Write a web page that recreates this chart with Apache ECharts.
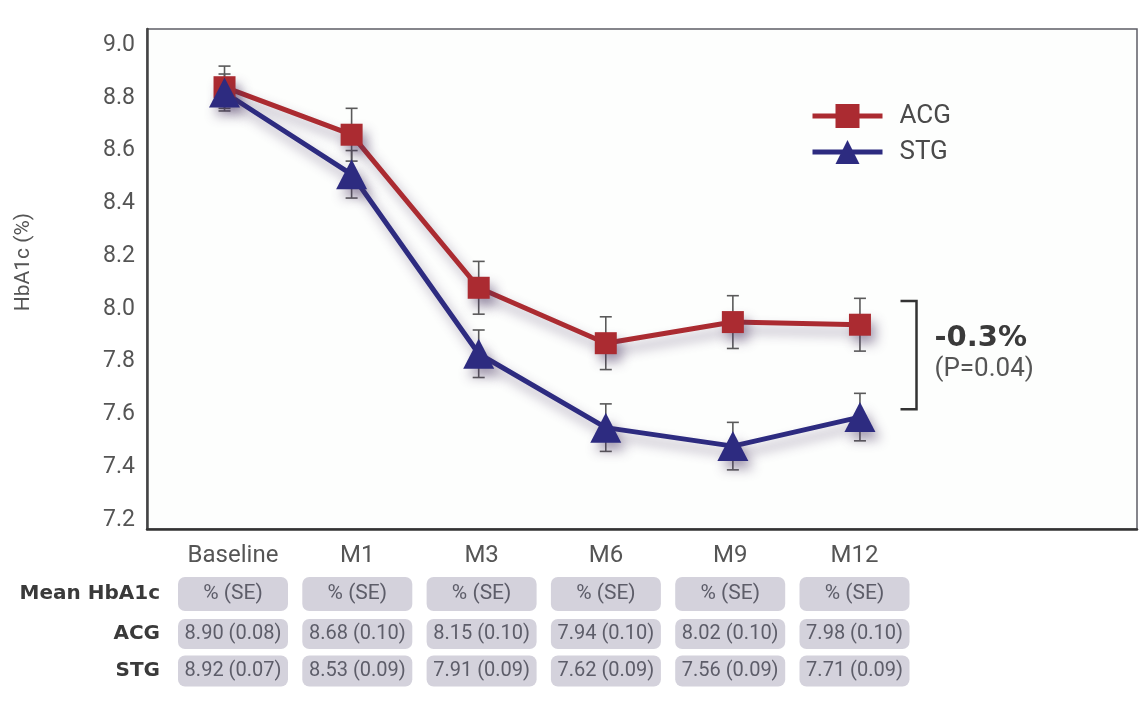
<!DOCTYPE html>
<html>
<head>
<meta charset="utf-8">
<script src="https://cdn.jsdelivr.net/npm/echarts@6/dist/echarts.min.js"></script>
<style>
  html, body { margin: 0; padding: 0; background: #ffffff; }
  #chart { width: 1139px; height: 706px; }
</style>
</head>
<body>
<div id="chart"></div>
<script>
// Visits (x categories)
const visits = ['Baseline', 'M1', 'M3', 'M6', 'M9', 'M12'];

// Plotted HbA1c (%) per visit
const acgPlot = [8.84, 8.66, 8.08, 7.87, 7.95, 7.94];
const stgPlot = [8.82, 8.51, 7.83, 7.55, 7.48, 7.59];

// Table: mean HbA1c % and SE
const acgMean = [8.90, 8.68, 8.15, 7.94, 8.02, 7.98];
const acgSE   = [0.08, 0.10, 0.10, 0.10, 0.10, 0.10];
const stgMean = [8.92, 8.53, 7.91, 7.62, 7.56, 7.71];
const stgSE   = [0.07, 0.09, 0.09, 0.09, 0.09, 0.09];

// Y tick labels
const yTicks = [7.2, 7.4, 7.6, 7.8, 8.0, 8.2, 8.4, 8.6, 8.8, 9.0];

// Between-group difference at M12
const diffLabel = '-0.3%';
const pLabel = '(P=0.04)';
const bracketRange = [8.03, 7.62];

const ACG_COLOR = '#ab2b31';
const STG_COLOR = '#2d2b80';
const SHADOW = 'rgba(70, 50, 95, 0.45)';

const chart = echarts.init(document.getElementById('chart'), null, { renderer: 'canvas' });

function errorData(vals, se) {
  return vals.map((v, i) => [i, v - se[i], v + se[i]]);
}

function errorBars(params, api) {
  const x = api.value(0);
  const lo = api.coord([x, api.value(1)]);
  const hi = api.coord([x, api.value(2)]);
  const w = 6;
  const style = { stroke: '#5a5a5a', lineWidth: 1.6 };
  return {
    type: 'group',
    children: [
      { type: 'line', shape: { x1: hi[0], y1: hi[1], x2: lo[0], y2: lo[1] }, style },
      { type: 'line', shape: { x1: hi[0] - w, y1: hi[1], x2: hi[0] + w, y2: hi[1] }, style },
      { type: 'line', shape: { x1: lo[0] - w, y1: lo[1], x2: lo[0] + w, y2: lo[1] }, style }
    ]
  };
}

function lineSeries(name, vals, color, symbol, size) {
  return {
    name, type: 'line', z: 3,
    data: vals.map((v, i) => [i, v]),
    symbol, symbolSize: size,
    showAllSymbol: true,
    lineStyle: { color, width: 5, shadowColor: SHADOW, shadowBlur: 12, shadowOffsetX: 5, shadowOffsetY: 8 },
    itemStyle: { color, opacity: 1, shadowColor: SHADOW, shadowBlur: 12, shadowOffsetX: 5, shadowOffsetY: 8 },
    emphasis: { disabled: true },
    animation: false
  };
}

chart.setOption({
  animation: false,
  backgroundColor: '#ffffff',
  grid: {
    left: 147, right: 2, top: 29, bottom: 177,
    show: true, backgroundColor: '#fdfefd', borderColor: '#5e5e66', borderWidth: 1.5
  },
  legend: {
    orient: 'vertical', left: 805, top: 98,
    itemWidth: 70, itemHeight: 30, itemGap: 10,
    lineStyle: { width: 5 },
    textStyle: { fontFamily: 'Roboto', fontSize: 26, color: '#4a4a4a', padding: [0, 0, 0, 12] },
    data: ['ACG', 'STG']
  },
  xAxis: {
    type: 'value', min: -0.61, max: 7.18,
    axisLine: { show: true, onZero: false, lineStyle: { color: '#333', width: 2.5 } },
    axisTick: { show: false }, axisLabel: { show: false }, splitLine: { show: false }
  },
  yAxis: {
    type: 'value', min: 7.1659, max: 9.0606,
    axisLine: { show: true, onZero: false, lineStyle: { color: '#444', width: 2.5 } },
    axisTick: { show: false }, splitLine: { show: false },
    axisLabel: {
      customValues: yTicks, margin: 12,
      formatter: v => v.toFixed(1),
      fontFamily: 'Roboto', fontSize: 23, color: '#555'
    }
  },
  series: [
    { type: 'custom', z: 1, renderItem: errorBars, data: errorData(acgPlot, acgSE), silent: true },
    { type: 'custom', z: 1, renderItem: errorBars, data: errorData(stgPlot, stgSE), silent: true },
    lineSeries('ACG', acgPlot, ACG_COLOR, 'rect', 22),
    lineSeries('STG', stgPlot, STG_COLOR, 'triangle', [31, 30])
  ]
});

// Annotations, axis title and the summary table
const g = [];
const toPx = (x, y) => chart.convertToPixel({ gridIndex: 0 }, [x, y]);

g.push({
  type: 'text', x: 24, y: 262, rotation: Math.PI / 2,
  style: { text: 'HbA1c (%)', fontFamily: 'Roboto', fontSize: 21, fill: '#555', align: 'center', verticalAlign: 'middle' }
});

const bTop = toPx(5.445, bracketRange[0]);
const bBot = toPx(5.445, bracketRange[1]);
g.push({
  type: 'polyline',
  shape: { points: [[bTop[0] - 16, bTop[1]], [bTop[0], bTop[1]], [bBot[0], bBot[1]], [bBot[0] - 16, bBot[1]]] },
  style: { stroke: '#333', lineWidth: 2.5, fill: null }
});
g.push({
  type: 'text', x: bTop[0] + 18, y: 338,
  style: { text: diffLabel, fontFamily: 'DejaVu Sans', fontWeight: 'bold', fontSize: 29, fill: '#3a3a3a', verticalAlign: 'middle' }
});
g.push({
  type: 'text', x: bTop[0] + 18, y: 369,
  style: { text: pLabel, fontFamily: 'Roboto', fontSize: 26, fill: '#555', verticalAlign: 'middle' }
});

const colX0 = 233, colStep = 124.3, boxW = 110;
const rows = [
  { label: 'Mean HbA1c', y: 594, h: 34, cell: () => '% (SE)' },
  { label: 'ACG', y: 634, h: 30, cell: i => acgMean[i].toFixed(2) + ' (' + acgSE[i].toFixed(2) + ')' },
  { label: 'STG', y: 671, h: 31, cell: i => stgMean[i].toFixed(2) + ' (' + stgSE[i].toFixed(2) + ')' }
];
visits.forEach((v, i) => {
  const cx = colX0 + colStep * i;
  g.push({
    type: 'text', x: cx, y: 556,
    style: { text: v, fontFamily: 'Roboto', fontSize: 24, fill: '#555', align: 'center', verticalAlign: 'middle' }
  });
  rows.forEach((r, k) => {
    g.push({
      type: 'rect', shape: { x: cx - boxW / 2, y: r.y - r.h / 2, width: boxW, height: r.h, r: 7 },
      style: { fill: '#d4d2dc' }
    });
    g.push({
      type: 'text', x: cx, y: r.y,
      style: { text: r.cell(i), fontFamily: 'Roboto', fontSize: k === 0 ? 21 : 20, fill: '#5d5d69', align: 'center', verticalAlign: 'middle' }
    });
  });
});
rows.forEach(r => {
  g.push({
    type: 'text', x: 160, y: r.y,
    style: { text: r.label, fontFamily: 'DejaVu Sans', fontWeight: 'bold', fontSize: 20, fill: '#3a3a3a', align: 'right', verticalAlign: 'middle' }
  });
});

chart.setOption({ graphic: g });
</script>
</body>
</html>
